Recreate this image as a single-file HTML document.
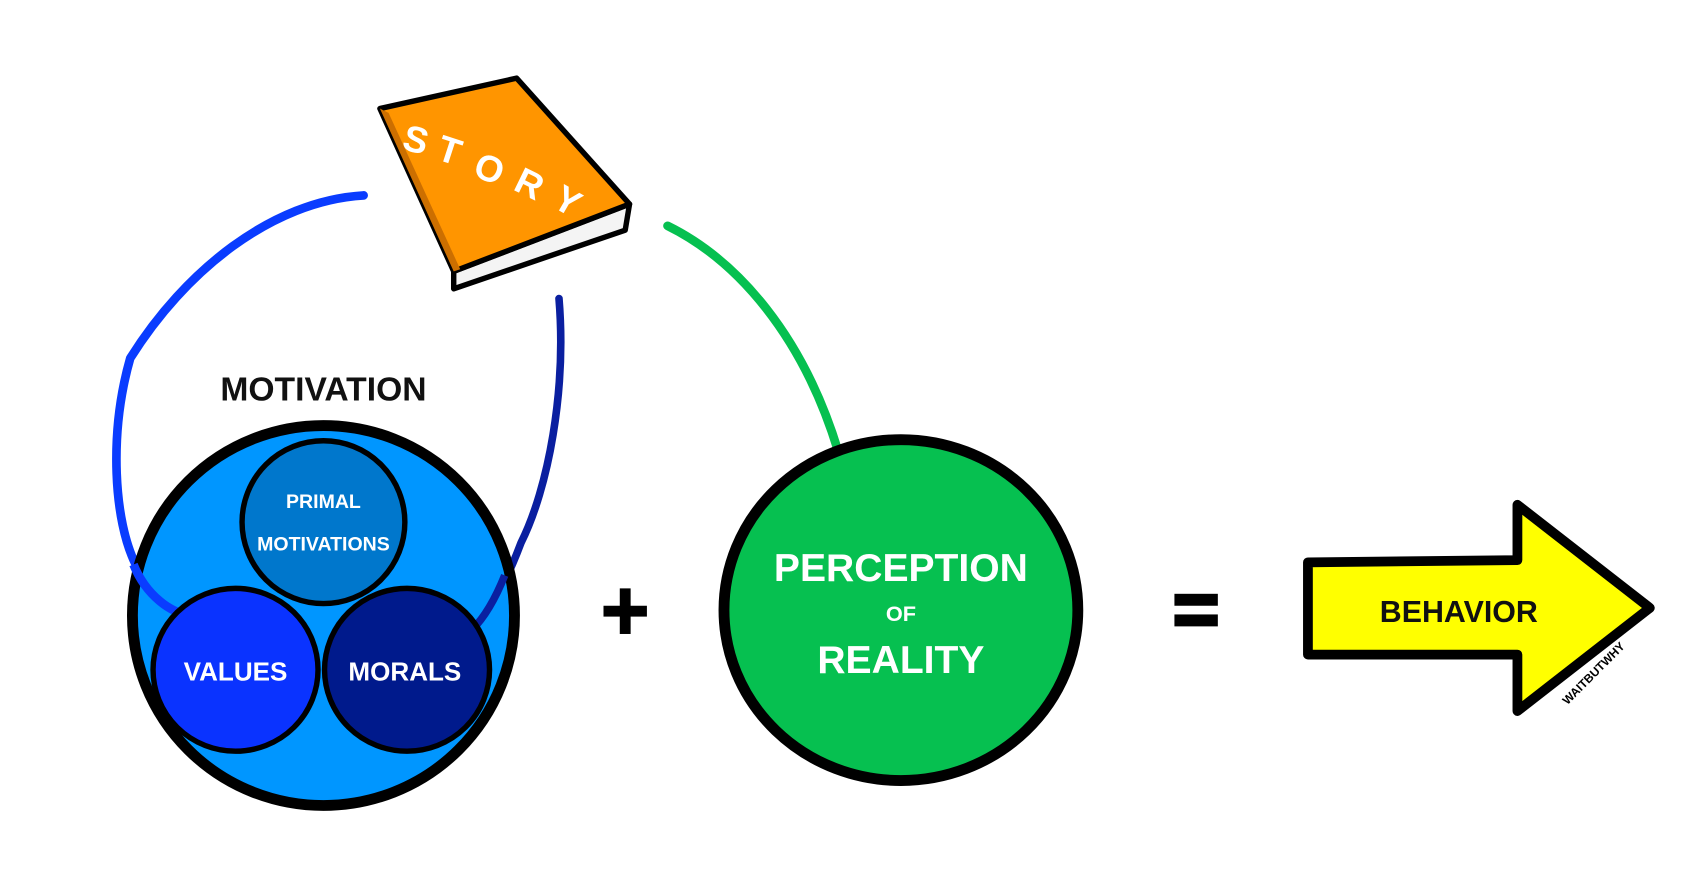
<!DOCTYPE html>
<html><head><style>html,body{margin:0;padding:0;background:#fff}svg{display:block}text{font-family:"Liberation Sans",sans-serif;font-weight:bold}</style></head>
<body>
<svg width="1690" height="888" viewBox="0 0 1557 818" preserveAspectRatio="none" xmlns="http://www.w3.org/2000/svg">
<rect width="1557" height="818" fill="#fff"/>
<polygon points="418,250 580,188 576,212 418,266" fill="#f4f4f4" stroke="#000" stroke-width="5" stroke-linejoin="round"/>
<polygon points="350,100 476,72 580,188 418,250" fill="#ff9500" stroke="#000" stroke-width="5" stroke-linejoin="round"/>
<polygon points="350,100 358,104 424,248 418,250" fill="#cc6f00"/>
<g fill="#fff" font-size="34">
<text x="372" y="140" transform="rotate(15 382 128)">S</text>
<text x="404" y="150" transform="rotate(18 414 138)">T</text>
<text x="438" y="166" transform="rotate(22 448 154)">O</text>
<text x="476" y="180" transform="rotate(26 486 168)">R</text>
<text x="512" y="196" transform="rotate(30 522 184)">Y</text>
</g>
<path d="M335,180 C250,185 170,250 120,330 C100,400 105,480 125,520 C140,550 160,565 170,565" fill="none" stroke="#0a3cff" stroke-width="8" stroke-linecap="round"/>
<path d="M515,275 C522,360 505,450 480,500 C465,540 450,565 435,580" fill="none" stroke="#0a1fa0" stroke-width="7" stroke-linecap="round"/>
<path d="M615,208 C680,240 740,310 772,415" fill="none" stroke="#06c050" stroke-width="8" stroke-linecap="round"/>
<text x="298" y="369" font-size="31" text-anchor="middle" fill="#111">MOTIVATION</text>
<ellipse cx="298" cy="567" rx="176" ry="175" fill="#0096ff" stroke="#000" stroke-width="10"/>
<path d="M123,520 C135,550 160,565 170,565" fill="none" stroke="#0a3cff" stroke-width="8"/>
<path d="M465,530 C455,555 445,570 435,580" fill="none" stroke="#0a1fa0" stroke-width="7"/>
<circle cx="298" cy="481" r="75" fill="#0077cc" stroke="#000" stroke-width="5"/>
<ellipse cx="217" cy="617" rx="76" ry="75" fill="#0a33ff" stroke="#000" stroke-width="5"/>
<ellipse cx="375" cy="617" rx="76" ry="75" fill="#001a8c" stroke="#000" stroke-width="5"/>
<g fill="#fff" text-anchor="middle">
<text x="298" y="468" font-size="18">PRIMAL</text>
<text x="298" y="507" font-size="18">MOTIVATIONS</text>
<text x="217" y="627" font-size="24">VALUES</text>
<text x="373" y="627" font-size="24">MORALS</text>
</g>
<rect x="556" y="558" width="40" height="10" fill="#000"/>
<rect x="571" y="542" width="10" height="42" fill="#000"/>
<ellipse cx="830" cy="562" rx="163" ry="157" fill="#06c050" stroke="#000" stroke-width="10"/>
<g fill="#fff" text-anchor="middle">
<text x="830" y="535" font-size="36">PERCEPTION</text>
<text x="830" y="572" font-size="20">OF</text>
<text x="830" y="620" font-size="36">REALITY</text>
</g>
<rect x="1082" y="547" width="40" height="11" fill="#000"/>
<rect x="1082" y="566" width="40" height="11" fill="#000"/>
<polygon points="1205,518 1398,516 1398,465 1520,560 1398,655 1398,603 1205,603" fill="#ffff00" stroke="#000" stroke-width="9" stroke-linejoin="round"/>
<text x="1344" y="573" font-size="28" text-anchor="middle" fill="#111">BEHAVIOR</text>
<text x="1468" y="624" font-size="11" fill="#000" text-anchor="middle" transform="rotate(-45 1468 620)">WAITBUTWHY</text>
</svg>
</body></html>
